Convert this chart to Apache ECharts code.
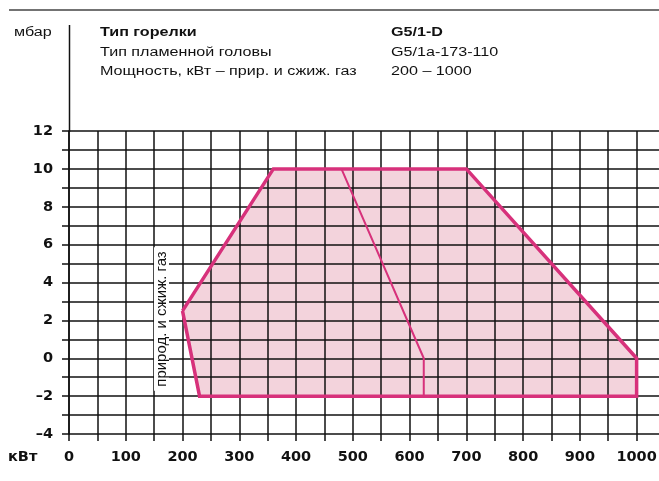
<!DOCTYPE html>
<html>
<head>
<meta charset="utf-8">
<script src="https://cdn.jsdelivr.net/npm/echarts@6/dist/echarts.min.js"></script>
<style>
html,body{margin:0;padding:0;background:#fff;overflow:hidden;}
#chart{width:672px;height:481px;}
</style>
</head>
<body>
<div id="chart"></div>
<script>
// рабочее поле горелки G5/1-D
var outlineKw    = [200, 360, 700, 1000, 1000, 230, 200];
var outlineMbar  = [2.5, 10,  10,  0,    -2,   -2,  2.5];
var innerKw      = [480, 625, 625];
var innerMbar    = [10,  0,   -2];
var xLabels      = [0, 100, 200, 300, 400, 500, 600, 700, 800, 900, 1000];
var yLabels      = [-4, -2, 0, 2, 4, 6, 8, 10, 12];

var headLeft  = ['Тип горелки', 'Тип пламенной головы', 'Мощность, кВт – прир. и сжиж. газ'];
var headRight = ['G5/1-D', 'G5/1a-173-110', '200 – 1000'];

var lineColor = '#d7317b';
var fillColor = '#f3d3dc';
var font = 'Liberation Sans, Arial, sans-serif';
var boldFont = 'DejaVu Sans, sans-serif';

function pairs(xs, ys){
	var out = [];
	for (var i = 0; i < xs.length; i++) out.push([xs[i], ys[i]]);
	return out;
}

function headText(txt, x, y, bold){
	// шрифт в оригинале растянут по ширине
	return {type:'text', x:x, y:y, scaleX:1.29, z:10,
		style:{text:txt, font:(bold ? 'bold ' : '') + '12.5px ' + font, fill:'#111', align:'left', verticalAlign:'middle'}};
}

var myChart = echarts.init(document.getElementById('chart'));

var graphics = [];
// верхняя линия
graphics.push({type:'line', shape:{x1:9, y1:10, x2:672, y2:10}, style:{stroke:'#444', lineWidth:1.5}, z:10});
// продолжение оси Y вверх
graphics.push({type:'line', shape:{x1:69.5, y1:25, x2:69.5, y2:132}, style:{stroke:'#111', lineWidth:1.5}, z:10});
graphics.push(headText('мбар', 14, 33, false));
for (var i = 0; i < headLeft.length; i++){
	graphics.push(headText(headLeft[i], 100, 33 + i * 19.5, i == 0));
	graphics.push(headText(headRight[i], 391, 33 + i * 19.5, i == 0));
}
graphics.push({type:'text', x:8, y:457, z:10,
	style:{text:'кВт', font:'bold 14.5px ' + boldFont, fill:'#111', verticalAlign:'middle'}});
// подпись по вертикали
graphics.push({type:'text', x:161.5, y:319, rotation:Math.PI / 2, z:20,
	style:{text:'природ. и сжиж. газ', font:'15px ' + font, fill:'#111',
		align:'center', verticalAlign:'middle', backgroundColor:'#fff', padding:[0,4]}});

var option = {
	animation:false,
	backgroundColor:'#fff',
	grid:{left:69, right:7, top:131, bottom:47, containLabel:false},
	xAxis:{
		type:'value', min:0, max:1050, interval:50, z:2,
		axisLine:{show:false, onZero:false},
		axisTick:{show:true, length:7, lineStyle:{color:'#111', width:1.5}},
		splitLine:{show:true, lineStyle:{color:'#111', width:1.5}},
		axisLabel:{
			margin:16, fontSize:14.5, fontWeight:'bold', color:'#111', fontFamily:boldFont,
			formatter:function(v){ return xLabels.indexOf(v) >= 0 ? String(v) : ''; }
		}
	},
	yAxis:{
		type:'value', min:-4, max:12, interval:1, z:2,
		axisLine:{show:true, onZero:false, lineStyle:{color:'#111', width:1.5}},
		axisTick:{show:true, length:7, lineStyle:{color:'#111', width:1.5}},
		splitLine:{show:true, lineStyle:{color:'#111', width:1.5}},
		axisLabel:{
			margin:16, fontSize:14.5, fontWeight:'bold', color:'#111', fontFamily:boldFont,
			formatter:function(v){
				if (yLabels.indexOf(v) < 0) return '';
				return v < 0 ? '\u2013' + Math.abs(v) : String(v);
			}
		}
	},
	graphic:graphics,
	series:[
		{
			type:'custom', z:1, silent:true,
			data:[[0, 0]],
			renderItem:function(params, api){
				var pts = [];
				for (var i = 0; i < outlineKw.length; i++) pts.push(api.coord([outlineKw[i], outlineMbar[i]]));
				return {type:'polygon', shape:{points:pts}, style:{fill:fillColor}};
			}
		},
		{
			type:'line', z:3, symbol:'none', silent:true,
			data:pairs(outlineKw, outlineMbar),
			lineStyle:{color:lineColor, width:3.5, join:'miter'}
		},
		{
			type:'line', z:3, symbol:'none', silent:true,
			data:pairs(innerKw, innerMbar),
			lineStyle:{color:lineColor, width:2}
		}
	]
};
myChart.setOption(option);
</script>
</body>
</html>
